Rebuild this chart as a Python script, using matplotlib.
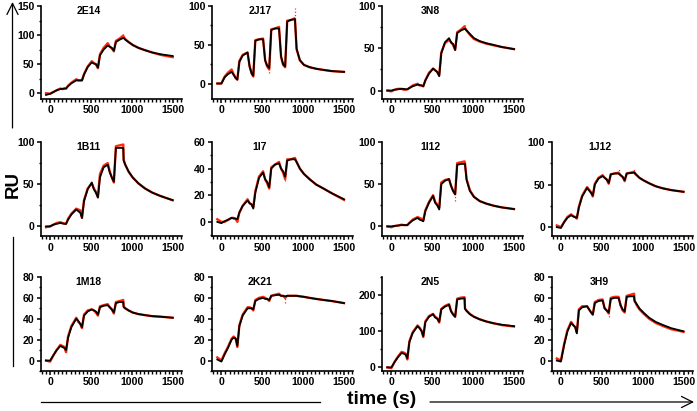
"""Single-cycle kinetics sensorgrams, eleven antibodies.

Red is the measured response, black the 1:1 fit.  Five injections of rising
concentration, then a long dissociation.  Writes out.png.
"""
import matplotlib
matplotlib.use("Agg")
import matplotlib.pyplot as plt
from matplotlib.ticker import MultipleLocator

RED = "#ff2a0a"
FONT = "Liberation Sans"

# time points (s), shared by every panel
TIME = [-50, 0, 40, 80, 125, 150, 175, 195, 220, 260, 320, 345, 370, 390, 415,
        460, 510, 535, 560, 585, 610, 655, 705, 730, 755, 780, 805, 850, 895,
        900, 920, 960, 1010, 1080, 1160, 1250, 1350, 1500]

FIT_2E14 = [-3, -1, 2, 5, 7, 7.5, 8, 8, 12, 17, 22, 22, 22, 22, 32, 45, 53, 51, 50, 44,
            65, 75, 82, 80, 78, 73, 88, 92, 95, 95, 92, 88, 83, 78, 74, 70, 67, 64]
DATA_2E14 = [0, -1, 2, 5, 8, 7, 8, 8, 13, 18, 24, 22, 22, 22, 33, 46, 55, 52, 50, 43,
             67, 78, 86, 80, 77, 72, 90, 94, 99, 97, 93, 88, 83, 78, 74, 70, 66, 62]

FIT_2J17 = [0, 0, 8, 12, 15, 11, 7, 5, 28, 36, 40, 22, 13, 10, 55, 57, 57, 30, 23, 20,
            69, 71, 71, 35, 25, 22, 80, 82, 83, 83, 45, 30, 24, 21, 19, 17.5, 16, 15]
DATA_2J17 = [0, 0, 9, 14, 18, 12, 7, 5, 29, 37, 40, 22, 13, 9, 56, 57, 58, 30, 22, 18,
             70, 71, 73, 34, 24, 21, 81, 82, 84, 83, 44, 30, 24, 21, 19, 17.5, 16, 15]

FIT_3N8 = [0, 0, 1, 1.5, 2, 2, 1.5, 1.5, 3, 5, 7, 6.5, 6, 5, 12, 20, 26, 24, 22, 17,
           44, 57, 62, 57, 55, 48, 68, 71, 73, 73, 71, 67, 62, 58.5, 56, 54, 51.5, 49]
DATA_3N8 = [0, -1, 1, 2, 2, 1, 1, 1.5, 3, 6, 8, 6, 6, 5, 12, 21, 26, 24, 22, 18,
            45, 56, 60, 57, 54, 48, 69, 72, 76, 74, 71, 66, 61, 58, 55.5, 53.5, 51.5, 49]

FIT_1B11 = [0, 0, 2, 3, 4, 3.5, 3, 3, 8, 14, 20, 18, 16, 10, 30, 44, 52, 44, 40, 34,
            58, 70, 73, 64, 58, 53, 93, 93, 93, 78, 73, 65, 58, 51, 45, 40, 36, 31]
DATA_1B11 = [-1, 0, 2, 4, 5, 4, 3.5, 3, 9, 15, 21, 20, 19, 10, 31, 45, 51, 45, 41, 35,
             62, 72, 75, 65, 58, 52, 95, 96, 97, 79, 73, 65, 58, 51, 45, 40, 36, 31]

FIT_1I7 = [0, -1, 0.5, 1.5, 3, 2.5, 2.5, 2, 7, 12, 16, 14, 13, 10, 22, 33, 37, 32, 30, 26,
           40, 43, 44, 40, 38, 34, 46, 47, 47, 47, 45, 40, 36, 32, 28, 25, 21.5, 17]
DATA_1I7 = [2, 0, 0, 1.5, 3, 3, 2, 0, 7, 12, 17, 14, 13, 11, 23, 34, 38, 32, 29, 25,
            41, 43, 45, 40, 37, 32, 47, 47, 48, 48, 45, 40, 36, 32, 28, 25, 21.5, 16.5]

FIT_1I12 = [0, 0, 0.5, 1, 1.5, 1.5, 1.5, 1.5, 4, 7, 10, 8, 7, 6, 18, 28, 36, 28, 25, 20,
            50, 54, 56, 48, 42, 38, 73, 74, 74, 74, 55, 42, 35, 30, 27, 24.5, 22.5, 20.5]
DATA_1I12 = [0, -1, 0.5, 1, 2, 1.5, 1.5, 1.5, 4, 8, 11, 10, 9, 7, 19, 29, 37, 29, 26, 22,
             52, 55, 56, 48, 42, 38, 75, 76, 77, 75, 56, 43, 35, 30, 27, 24.5, 22.5, 20.5]

FIT_1J12 = [0, -1, 6, 11, 14, 12.5, 11.5, 11, 23, 36, 46, 43, 40, 37, 50, 57, 60, 58, 56, 52,
            62, 63, 63, 61, 59, 55, 63, 63.5, 64, 64, 61.5, 58, 55, 51.5, 48, 45.5, 43.5, 41.5]
DATA_1J12 = [2, 0, 6, 12, 15, 13, 12, 10, 24, 37, 47, 44, 41, 36, 51, 58, 61, 58, 56, 51,
             62, 63, 64, 61, 59, 54, 63, 64, 65, 64, 62, 58, 55, 51.5, 48, 45.5, 43.5, 41.5]

FIT_1M18 = [0, 0, 5, 10, 14, 13, 12, 10, 22, 32, 40, 38, 35, 32, 43, 47, 49, 48, 47, 44,
            51, 52.5, 53, 51, 49, 46, 55, 56, 56, 51, 50, 48, 46, 44.5, 43.5, 42.5, 42, 41]
DATA_1M18 = [0, -1, 5, 10, 15, 14, 13, 8, 23, 33, 41, 37, 35, 31, 44, 48, 49, 48, 46, 43,
             52, 53, 54, 51, 49, 45, 56, 57, 58, 52, 50, 48, 46, 44.5, 43.5, 42.5, 42, 41]

FIT_2K21 = [1, -1, 6, 12, 20, 22, 21, 14, 33, 43, 50, 50, 50, 49, 57, 59, 60, 59, 59, 58,
            62, 62.5, 63, 62, 62, 61.5, 62, 62, 62, 62, 62, 61.5, 61, 60, 59, 58, 57, 55]
DATA_2K21 = [3, 0, 7, 13, 21, 23, 21, 13, 34, 44, 51, 51, 50, 48, 58, 60, 61, 60, 59, 57,
             62, 63, 64, 62, 62, 60, 62, 62, 62, 62, 62, 61.5, 61, 60, 59, 58, 57, 55]

FIT_2N5 = [0, 0, 15, 28, 40, 38, 35, 25, 70, 95, 114, 108, 100, 86, 125, 140, 147, 138, 135, 126,
           160, 168, 173, 155, 146, 140, 188, 190, 191, 162, 156, 147, 140, 133, 127, 122, 118, 114]
DATA_2N5 = [0, -2, 16, 30, 43, 41, 38, 22, 72, 97, 116, 110, 101, 84, 127, 142, 148, 140, 136, 124,
            162, 170, 175, 156, 147, 140, 190, 193, 194, 163, 157, 148, 140, 133, 127, 122, 117, 113]

FIT_3H9 = [0, -1, 15, 28, 36, 34, 32, 26, 48, 51, 52, 49, 46, 44, 55, 57, 57.5, 50, 48, 46,
           59, 60, 60, 53, 49, 47, 61, 61.5, 61.5, 57, 55, 50, 46, 41, 37, 34, 31, 28]
DATA_3H9 = [2, 0, 16, 29, 37, 34, 32, 27, 49, 52, 52, 49, 46, 44, 56, 58, 58.5, 50, 48, 45,
            60, 61, 61, 53, 48, 46, 62, 63, 64, 58, 54, 49, 45, 40, 36, 33, 30, 27.5]

# injection artefacts in the raw trace: (time, low, high)
SPIKES = {
    "2E14": [(710, 81, 87), (895, 95, 101)],
    "2J17": [(585, 14, 30), (895, 83, 98)],
    "3N8": [(895, 73, 78)],
    "1I7": [(780, 31, 35)],
    "1I12": [(780, 30, 38)],
    "1J12": [(125, 14, 17), (705, 62, 68), (895, 63, 70)],
    "1M18": [(195, 8, 14)],
    "2K21": [(705, 63, 66), (780, 55, 62)],
    "3H9": [(585, 42, 46), (895, 61, 65)],
}

NAMES = ["2E14", "2J17", "3N8", "1B11", "1I7", "1I12", "1J12",
         "1M18", "2K21", "2N5", "3H9"]
FITS = [FIT_2E14, FIT_2J17, FIT_3N8, FIT_1B11, FIT_1I7, FIT_1I12, FIT_1J12,
        FIT_1M18, FIT_2K21, FIT_2N5, FIT_3H9]
DATA = [DATA_2E14, DATA_2J17, DATA_3N8, DATA_1B11, DATA_1I7, DATA_1I12, DATA_1J12,
        DATA_1M18, DATA_2K21, DATA_2N5, DATA_3H9]
Y_RANGE = [(-10, 150), (-20, 100), (-10, 100), (-12, 100), (-11, 60), (-12, 100),
           (-11, 100), (-10, 80), (-10, 80), (-10, 250), (-10, 80)]
Y_STEP = [50, 50, 50, 50, 20, 50, 50, 20, 20, 100, 20]

# grid slot of each panel (row, col); row 0 has no fourth panel
SLOTS = [(0, 0), (0, 1), (0, 2), (1, 0), (1, 1), (1, 2), (1, 3),
         (2, 0), (2, 1), (2, 2), (2, 3)]

W, H = 697, 411
COL_LEFT = [40.7, 212, 382, 551.5]          # pixels from the left
ROW_SPAN = [(6, 99), (142, 236.5), (277, 371)]  # pixels from the top
PANEL_W = 141


def px(x, y):
    """Pixel position (from top-left) to figure fraction."""
    return x / W, 1 - y / H


def style(ax, ylim, ystep):
    ax.set_xlim(-115, 1610)
    ax.set_ylim(*ylim)
    ax.xaxis.set_major_locator(MultipleLocator(500))
    ax.xaxis.set_minor_locator(MultipleLocator(50))
    ax.yaxis.set_major_locator(MultipleLocator(ystep))
    ax.yaxis.set_minor_locator(MultipleLocator(ystep / 2))
    for side in ("top", "right"):
        ax.spines[side].set_visible(False)
    for side in ("left", "bottom"):
        ax.spines[side].set_linewidth(1.2)
    ax.tick_params(which="major", length=3, width=1.1, pad=1.5,
                   labelsize=7.6, direction="out")
    ax.tick_params(which="minor", length=1.8, width=1.0, direction="out")
    for lab in ax.get_xticklabels() + ax.get_yticklabels():
        lab.set_fontweight("bold")
        lab.set_family(FONT)
    ax.patch.set_alpha(0)


def main():
    fig = plt.figure(figsize=(W / 100, H / 100), dpi=100)

    for name, fit, raw, ylim, ystep, (r, c) in zip(NAMES, FITS, DATA, Y_RANGE,
                                                   Y_STEP, SLOTS):
        top, bottom = ROW_SPAN[r]
        ax = fig.add_axes([COL_LEFT[c] / W, 1 - bottom / H,
                           PANEL_W / W, (bottom - top) / H])
        ax.plot(TIME, raw, color=RED, lw=1.7, solid_joinstyle="round")
        for t, lo, hi in SPIKES.get(name, []):
            ax.plot([t, t], [lo, hi], color=RED, lw=0.9, ls=":")
        ax.plot(TIME, fit, color="black", lw=1.3, solid_joinstyle="round")
        style(ax, ylim, ystep)
        ax.text(0.34, 0.95, name, transform=ax.transAxes, ha="center",
                va="center", fontsize=7.5, fontweight="bold", family=FONT)

    arrow = dict(arrowstyle="->,head_width=0.4,head_length=0.8", lw=0.9,
                 color="black", shrinkA=0, shrinkB=0)
    # RU axis: arrow up above the label, plain line below it
    fig.add_artist(plt.Line2D(*zip(px(12.5, 237), px(12.5, 366)),
                              color="black", lw=0.9))
    plt.annotate("", xy=px(12.5, 2), xytext=px(12.5, 128),
                 xycoords="figure fraction", arrowprops=arrow)
    fig.text(*px(13, 184), "RU", rotation=90, ha="center", va="center",
             fontsize=13.5, fontweight="bold", family=FONT)

    # time axis along the bottom
    fig.add_artist(plt.Line2D(*zip(px(41, 402), px(320, 402)),
                              color="black", lw=0.9))
    plt.annotate("", xy=px(694, 402), xytext=px(430, 402),
                 xycoords="figure fraction", arrowprops=arrow)
    fig.text(*px(382, 399), "time (s)", ha="center", va="center",
             fontsize=14, fontweight="bold", family=FONT)

    fig.savefig("out.png", dpi=100)


if __name__ == "__main__":
    main()
